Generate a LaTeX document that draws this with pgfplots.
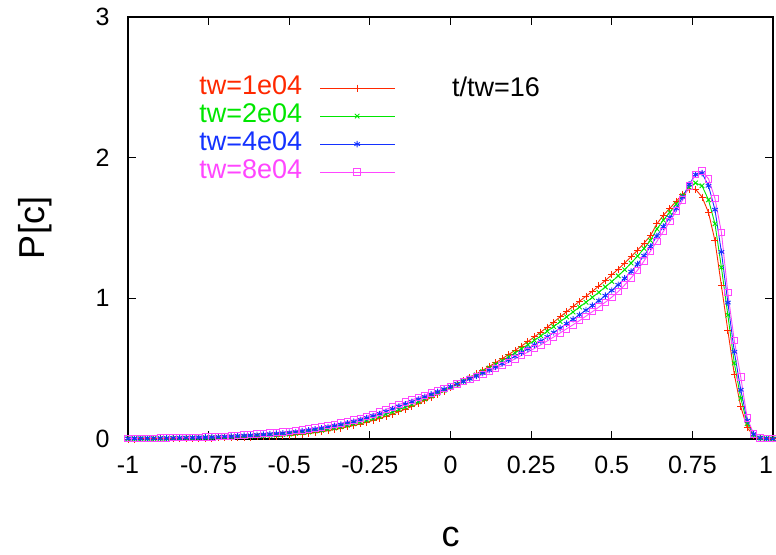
\documentclass[border=0pt]{standalone}
\usepackage{fontspec}
\setmainfont{Liberation Sans}
\usepackage{pgfplots}
\pgfplotsset{compat=1.18}
\usepackage{pgfplotstable}
\definecolor{cR}{RGB}{255,40,0}
\definecolor{cG}{RGB}{0,230,0}
\definecolor{cB}{RGB}{20,50,255}
\definecolor{cM}{RGB}{255,70,255}
\pgfplotstableread{
c R G B M
-1.00 0.000 0.001 0.003 0.004
-0.98 0.000 0.002 0.004 0.005
-0.96 0.001 0.002 0.004 0.005
-0.94 0.001 0.003 0.005 0.006
-0.92 0.001 0.003 0.005 0.006
-0.90 0.002 0.004 0.006 0.007
-0.88 0.002 0.004 0.006 0.008
-0.86 0.003 0.005 0.007 0.009
-0.84 0.003 0.005 0.008 0.010
-0.82 0.004 0.006 0.009 0.011
-0.80 0.005 0.007 0.010 0.012
-0.78 0.005 0.007 0.011 0.013
-0.76 0.006 0.009 0.012 0.015
-0.74 0.007 0.010 0.013 0.016
-0.72 0.008 0.011 0.015 0.018
-0.70 0.009 0.012 0.017 0.020
-0.68 0.010 0.014 0.019 0.023
-0.66 0.011 0.016 0.022 0.026
-0.64 0.012 0.017 0.024 0.029
-0.62 0.013 0.019 0.026 0.032
-0.60 0.015 0.021 0.029 0.035
-0.58 0.017 0.023 0.032 0.038
-0.56 0.019 0.026 0.035 0.042
-0.54 0.021 0.028 0.038 0.045
-0.52 0.023 0.031 0.041 0.049
-0.50 0.026 0.034 0.045 0.053
-0.48 0.030 0.039 0.050 0.059
-0.46 0.035 0.044 0.056 0.065
-0.44 0.040 0.050 0.062 0.072
-0.42 0.046 0.056 0.069 0.079
-0.40 0.052 0.062 0.076 0.086
-0.38 0.059 0.070 0.084 0.095
-0.36 0.067 0.078 0.093 0.104
-0.34 0.076 0.087 0.102 0.113
-0.32 0.086 0.097 0.112 0.123
-0.30 0.096 0.108 0.123 0.135
-0.28 0.107 0.119 0.136 0.148
-0.26 0.119 0.132 0.149 0.162
-0.24 0.132 0.145 0.163 0.176
-0.22 0.146 0.160 0.178 0.192
-0.20 0.161 0.176 0.195 0.210
-0.18 0.177 0.192 0.213 0.228
-0.16 0.194 0.209 0.230 0.245
-0.14 0.212 0.227 0.247 0.262
-0.12 0.231 0.245 0.264 0.278
-0.10 0.251 0.264 0.282 0.295
-0.08 0.272 0.284 0.299 0.311
-0.06 0.294 0.304 0.317 0.327
-0.04 0.317 0.325 0.335 0.343
-0.02 0.341 0.346 0.354 0.359
0.00 0.365 0.368 0.372 0.375
0.02 0.389 0.390 0.390 0.391
0.04 0.413 0.411 0.409 0.407
0.06 0.438 0.434 0.428 0.424
0.08 0.463 0.456 0.448 0.441
0.10 0.489 0.480 0.468 0.459
0.12 0.516 0.505 0.490 0.479
0.14 0.543 0.530 0.513 0.500
0.16 0.571 0.556 0.537 0.522
0.18 0.600 0.584 0.562 0.545
0.20 0.630 0.612 0.588 0.570
0.22 0.661 0.641 0.614 0.594
0.24 0.693 0.671 0.641 0.618
0.26 0.726 0.701 0.668 0.643
0.28 0.760 0.733 0.696 0.669
0.30 0.795 0.766 0.726 0.697
0.32 0.831 0.799 0.757 0.725
0.34 0.868 0.834 0.788 0.754
0.36 0.905 0.868 0.820 0.783
0.38 0.942 0.903 0.851 0.812
0.40 0.979 0.938 0.883 0.842
0.42 1.015 0.972 0.916 0.873
0.44 1.050 1.007 0.949 0.905
0.46 1.088 1.043 0.983 0.938
0.48 1.127 1.081 1.019 0.972
0.50 1.167 1.119 1.056 1.008
0.52 1.208 1.160 1.096 1.048
0.54 1.251 1.204 1.142 1.095
0.56 1.296 1.251 1.190 1.145
0.58 1.343 1.300 1.243 1.200
0.60 1.392 1.354 1.303 1.265
0.62 1.445 1.412 1.368 1.335
0.64 1.530 1.493 1.443 1.405
0.66 1.590 1.556 1.510 1.475
0.68 1.640 1.612 1.574 1.545
0.70 1.690 1.670 1.640 1.620
0.72 1.740 1.730 1.720 1.700
0.74 1.775 1.790 1.810 1.800
0.76 1.775 1.820 1.880 1.880
0.78 1.720 1.800 1.890 1.905
0.80 1.610 1.700 1.800 1.850
0.82 1.410 1.530 1.630 1.710
0.84 1.090 1.220 1.330 1.470
0.86 0.770 0.880 0.970 1.040
0.88 0.460 0.540 0.620 0.700
0.90 0.230 0.290 0.350 0.440
0.92 0.080 0.110 0.130 0.150
0.94 0.025 0.030 0.035 0.035
0.96 0.006 0.007 0.008 0.008
0.98 0.002 0.003 0.003 0.003
1.00 0.001 0.001 0.001 0.002
}\data
\begin{document}
\begin{tikzpicture}
\begin{axis}[
  scale only axis,
  width=645pt, height=422pt,
  at={(0pt,0pt)}, anchor=south west,
  xmin=-1, xmax=1, ymin=0, ymax=3,
  xtick={-1,-0.75,-0.5,-0.25,0,0.25,0.5,0.75,1},
  xticklabels={-1,-0.75,-0.5,-0.25,0,0.25,0.5,0.75,{\makebox[0pt][r]{1}}},
  ytick={0,1,2,3},
  yticklabels={0,1,2,3},
  /pgf/number format/assume math mode=true,
  tick align=inside,
  major tick length=8pt,
  tick style={line width=1pt, black},
  axis line style={line width=1.2pt},
  ticklabel style={font=\fontsize{25}{28}\selectfont},
  xticklabel style={yshift=-14pt},
  yticklabel style={xshift=-15pt},
  xlabel={c}, ylabel={P[c]},
  every axis x label/.style={at={(axis description cs:0.5,-0.232)}, anchor=center, font=\fontsize{36}{40}\selectfont},
  every axis y label/.style={at={(axis description cs:-0.144,0.5)}, anchor=center, rotate=90, font=\fontsize{36}{40}\selectfont},
  legend plot pos=right,
  legend cell align=right,
  legend image code/.code={%
    \draw[#1, mark=none, line width=1.1pt] (0pt,0pt) -- (75pt,0pt);
    \draw[#1, only marks] plot coordinates {(37pt,0pt)};},
  legend style={draw=none, fill=none,
    font=\fontsize{27}{29}\selectfont,
    nodes={text height=19pt, text depth=6pt, inner sep=1.5pt},
    /tikz/every odd column/.append style={column sep=16pt},
    at={(axis description cs:0.42,0.732)}, anchor=east},
]
\addplot[color=cR, line width=0.9pt, mark=+, mark size=3.5pt] table[x=c,y=R] {\data};
\addlegendentry{\textcolor{cR}{tw=1e04}}
\addplot[color=cG, line width=0.9pt, mark=x, mark size=3.2pt] table[x=c,y=G] {\data};
\addlegendentry{\textcolor{cG}{tw=2e04}}
\addplot[color=cB, line width=0.9pt, mark=asterisk, mark size=3.2pt] table[x=c,y=B] {\data};
\addlegendentry{\textcolor{cB}{tw=4e04}}
\addplot[color=cM, line width=0.9pt, mark=square, mark size=3.2pt, mark options={line width=0.9pt}] table[x=c,y=M] {\data};
\addlegendentry{\textcolor{cM}{tw=8e04}}
\node[font=\fontsize{27}{29}\selectfont, anchor=center] at (axis cs:0.141,2.50) {t/tw=16};
\end{axis}
\pgfresetboundingbox
\path (-128pt,-115pt) rectangle (648pt,439pt);
\end{tikzpicture}
\end{document}
